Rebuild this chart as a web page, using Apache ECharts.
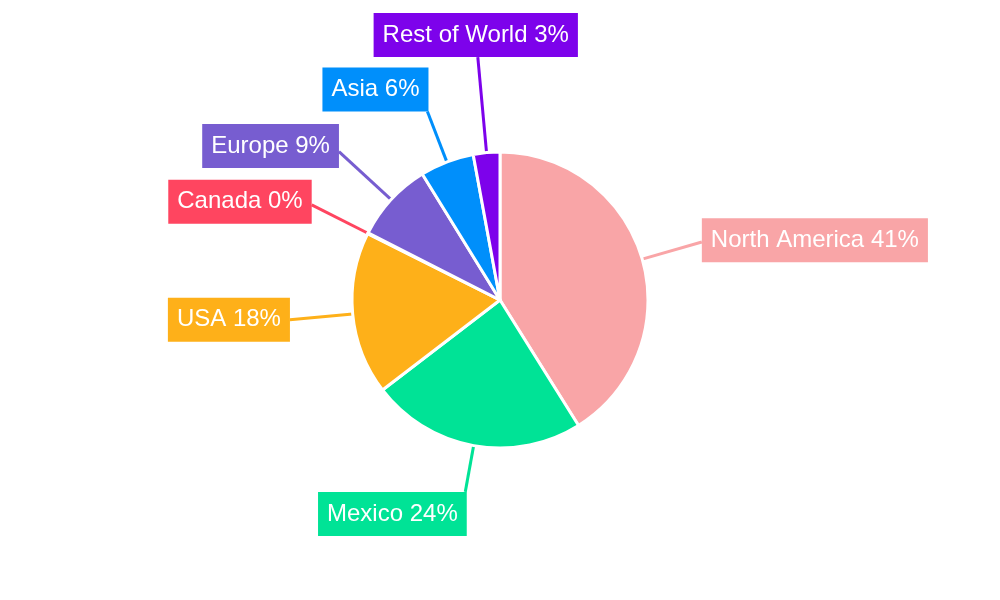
<!DOCTYPE html>
<html>
<head>
<meta charset="utf-8">
<script src="https://cdn.jsdelivr.net/npm/echarts@6/dist/echarts.min.js"></script>
<style>
html,body{margin:0;padding:0;background:#fff;}
#chart{width:1000px;height:600px;}
</style>
</head>
<body>
<div id="chart"></div>
<script>
// Data
var categories = ['North America', 'Mexico', 'USA', 'Canada', 'Europe', 'Asia', 'Rest of World'];
var values = [41.1, 23.5, 17.8, 0.1, 8.7, 5.9, 2.9];
var colors = ['#F9A5A7', '#00E396', '#FEB019', '#FF4560', '#775DD0', '#008FFB', '#7D02EB'];

// Label placement config (not data)
var lineLengths = [62, 47, 63, 63, 71, 54, 96];
var labelAnchors = [[0, 0.54], [0.99, 0], [1, 0.5], [1, 0.57], [1, 0.63], [0.99, 1], [0.51, 1]];

var chart = echarts.init(document.getElementById('chart'), null, {renderer: 'canvas'});

var seriesData = categories.map(function (name, i) {
  return {
    name: name,
    value: values[i],
    itemStyle: {color: colors[i]},
    label: {backgroundColor: colors[i]},
    labelLine: {length: lineLengths[i], length2: 0, lineStyle: {color: colors[i]}}
  };
});

chart.setOption({
  animation: false,
  backgroundColor: '#ffffff',
  series: [{
    type: 'pie',
    center: ['50%', '50%'],
    radius: 148,
    startAngle: 90,
    clockwise: true,
    avoidLabelOverlap: false,
    minAngle: 0,
    itemStyle: {borderColor: '#ffffff', borderWidth: 3},
    label: {
      show: true,
      position: 'outside',
      color: '#ffffff',
      fontFamily: 'Liberation Sans, Arial, sans-serif',
      fontSize: 24,
      lineHeight: 24,
      padding: [10, 9, 10, 9],
      distanceToLabelLine: 0,
      formatter: function (p) {
        return p.name + ' ' + Math.round(p.percent) + '%';
      }
    },
    labelLine: {show: true, length2: 0, smooth: false, lineStyle: {width: 3}},
    labelLayout: function (params) {
      var i = params.dataIndex;
      var pts = params.labelLinePoints;
      if (!pts) return {};
      var a = labelAnchors[i];
      var e = pts[1];
      var w = params.labelRect.width, h = params.labelRect.height;
      return {
        x: e[0] - a[0] * w,
        y: e[1] - a[1] * h,
        align: 'left',
        verticalAlign: 'top',
        labelLinePoints: [pts[0], [e[0], e[1]], [e[0], e[1]]]
      };
    },
    emphasis: {disabled: true},
    data: seriesData
  }]
});
</script>
</body>
</html>
